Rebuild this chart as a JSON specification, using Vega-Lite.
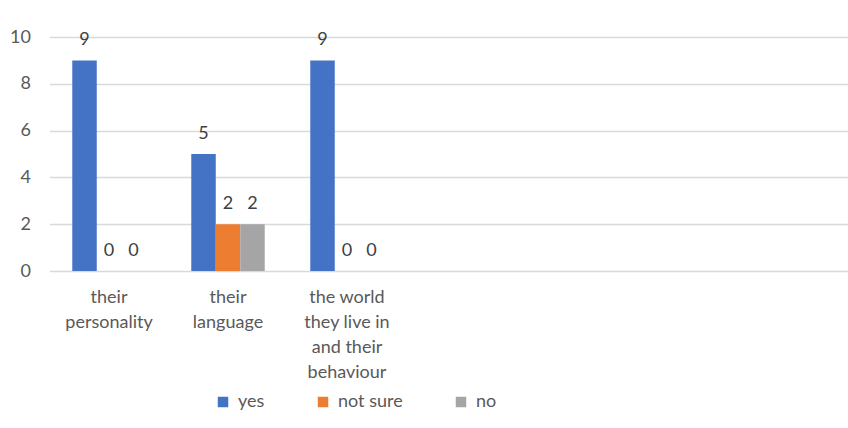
{
  "$schema": "https://vega.github.io/schema/vega-lite/v6.json",
  "autosize": {"type": "none"},
  "padding": {"left": 49.5, "top": 37, "right": 0, "bottom": 157},
  "width": 798.5,
  "height": 234,
  "background": "white",
  "config": {
    "font": "Lato",
    "view": {"stroke": null},
    "axis": {"labelFont": "Lato", "labelColor": "#595959", "labelFontSize": 18}
  },
  "data": {
    "values": [
      {"category": "their|personality", "series": "yes", "value": 9},
      {"category": "their|personality", "series": "not sure", "value": 0},
      {"category": "their|personality", "series": "no", "value": 0},
      {"category": "their|language", "series": "yes", "value": 5},
      {"category": "their|language", "series": "not sure", "value": 2},
      {"category": "their|language", "series": "no", "value": 2},
      {"category": "the world|they live in|and their|behaviour", "series": "yes", "value": 9},
      {"category": "the world|they live in|and their|behaviour", "series": "not sure", "value": 0},
      {"category": "the world|they live in|and their|behaviour", "series": "no", "value": 0}
    ]
  },
  "encoding": {
    "x": {
      "field": "category",
      "type": "nominal",
      "sort": null,
      "scale": {
        "domain": ["their|personality", "their|language", "the world|they live in|and their|behaviour", "_4", "_5"],
        "paddingInner": 0, "paddingOuter": 0.855, "align": 0
      },
      "axis": {
        "title": null,
        "labelAngle": 0,
        "domain": false,
        "ticks": false,
        "labelPadding": 17,
        "labelLineHeight": 25,
        "labelExpr": "indexof(datum.label, '_') == 0 ? '' : split(datum.label, '|')",
        "labelBaseline": "top"
      }
    },
    "xOffset": {
      "field": "series",
      "type": "nominal",
      "sort": ["yes", "not sure", "no"],
      "scale": {"domain": ["yes", "not sure", "no"], "paddingInner": 0, "paddingOuter": 0.93}
    },
    "y": {
      "field": "value",
      "type": "quantitative",
      "scale": {"domain": [0, 10], "nice": false},
      "axis": {
        "title": null,
        "values": [0, 2, 4, 6, 8, 10],
        "domain": false,
        "ticks": false,
        "labelPadding": 19,
        "gridColor": "#D9D9D9",
        "gridWidth": 1.3
      }
    }
  },
  "layer": [
    {
      "mark": {"type": "bar"},
      "encoding": {
        "color": {
          "field": "series",
          "type": "nominal",
          "sort": ["yes", "not sure", "no"],
          "scale": {"domain": ["yes", "not sure", "no"], "range": ["#4472C4", "#ED7D31", "#A5A5A5"]},
          "legend": {
            "title": null,
            "orient": "none",
            "direction": "horizontal",
            "legendX": 164.5,
            "legendY": 356,
            "symbolType": "square",
            "symbolSize": 110,
            "symbolStrokeWidth": 0,
            "labelFont": "Lato",
            "labelFontSize": 18,
            "labelColor": "#595959",
            "labelOffset": 6,
            "columnPadding": 49,
            "padding": 0
          }
        }
      }
    },
    {
      "mark": {"type": "text", "baseline": "alphabetic", "dy": -15, "fontSize": 18, "font": "Lato", "color": "#404040"},
      "encoding": {"text": {"field": "value", "type": "quantitative"}}
    }
  ]
}
